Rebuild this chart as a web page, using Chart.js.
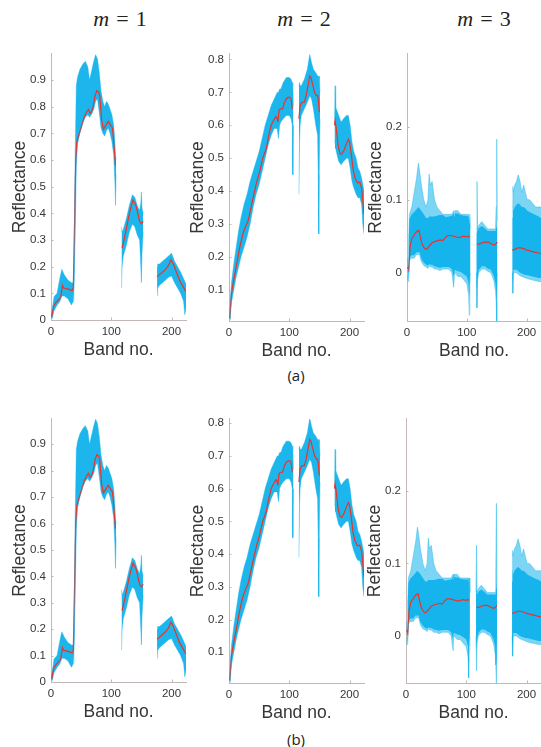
<!DOCTYPE html>
<html>
<head>
<meta charset="utf-8">
<script src="https://cdn.jsdelivr.net/npm/chart.js@4.4.0/dist/chart.umd.min.js"></script>
<style>
  body { margin: 0; background: #fff; width: 541px; height: 747px; position: relative; overflow: hidden; }
  canvas { position: absolute; }
  .title { position: absolute; font-family: "Liberation Serif", "Times New Roman", serif; font-size: 22px;
           line-height: 22px; color: #222; transform: translateX(-50%); white-space: nowrap; }
  .title span { margin: 0 7px; }
  .tag { position: absolute; font-family: "Open Sans", sans-serif; font-size: 15px; color: #222;
         transform: translate(-50%, -50%); }
</style>
</head>
<body>
<div class="title" style="left:120px; top:8px"><i>m</i><span>=</span>1</div>
<div class="title" style="left:304px; top:8px"><i>m</i><span>=</span>2</div>
<div class="title" style="left:484px; top:8px"><i>m</i><span>=</span>3</div>
<div class="tag" style="left:296px; top:375px">(a)</div>
<div class="tag" style="left:296px; top:739px">(b)</div>

<script>
// endmember m = 1 : spread of the bundle (upper / lower) and the mean spectrum
const m1Bands = [0, 2, 5, 10, 15, 18, 22, 28, 34, 37, 38, 40, 42, 44, 48, 53, 57, 61, 64, 67, 71, 74, 77, 80, 83, 86, 89, 92, 95, 98, 101, 104, 106, 107, 108,
  112,
  117, 118, 120, 125, 130, 135, 139, 143, 147, 149, 150, 151, 153,
  165,
  176, 177, 180, 185, 190, 195, 200, 205, 210, 215, 220, 222, 224];
const m1Upper = [0.02, 0.04, 0.087, 0.1, 0.16, 0.19, 0.17, 0.15, 0.14, 0.14, 0.15, 0.6, 0.88, 0.91, 0.94, 0.96, 0.97, 0.95, 0.9, 0.93, 0.97, 0.995, 0.98, 0.93, 0.86, 0.82, 0.8, 0.82, 0.81, 0.79, 0.77, 0.73, 0.67, 0.62, 0.6,
  null,
  0.35, 0.33, 0.34, 0.38, 0.43, 0.47, 0.46, 0.43, 0.41, 0.44, 0.48, 0.42, 0.40,
  null,
  0.2, 0.21, 0.21, 0.22, 0.23, 0.24, 0.25, 0.22, 0.2, 0.18, 0.155, 0.145, 0.135];
const m1Lower = [0.0, 0.005, 0.035, 0.055, 0.07, 0.09, 0.09, 0.08, 0.056, 0.07, 0.1, 0.3, 0.58, 0.66, 0.7, 0.74, 0.76, 0.77, 0.76, 0.77, 0.79, 0.82, 0.83, 0.78, 0.72, 0.7, 0.69, 0.71, 0.72, 0.7, 0.67, 0.62, 0.52, 0.43, 0.55,
  null,
  0.12, 0.2, 0.24, 0.28, 0.33, 0.36, 0.35, 0.32, 0.3, 0.2, 0.14, 0.25, 0.33,
  null,
  0.09, 0.12, 0.13, 0.14, 0.15, 0.16, 0.165, 0.14, 0.12, 0.1, 0.07, 0.02, 0.045];
const m1MeanBands = [1, 2, 4, 8, 12, 16, 19, 21, 25, 30, 35, 37, 39, 41, 43, 47, 51, 55, 59, 62, 65, 67, 70, 73, 76, 79, 81, 84, 87, 91, 95, 99, 102, 104, 107,
  112,
  118, 123, 130, 136, 141, 147, 150, 153,
  165,
  176, 180, 185, 190, 195, 199, 203, 208, 213, 218, 224];
const m1Mean = [0.01, 0.02, 0.05, 0.065, 0.075, 0.085, 0.13, 0.12, 0.118, 0.115, 0.11, 0.12, 0.35, 0.6, 0.67, 0.7, 0.73, 0.76, 0.78, 0.79, 0.775, 0.78, 0.8, 0.84, 0.86, 0.855, 0.84, 0.75, 0.715, 0.73, 0.745, 0.73, 0.72, 0.67, 0.58,
  null,
  0.27, 0.32, 0.4, 0.45, 0.43, 0.37, 0.36, 0.37,
  null,
  0.162, 0.17, 0.18, 0.19, 0.205, 0.226, 0.21, 0.18, 0.15, 0.13, 0.106];

// endmember m = 2
const m2Bands = [1, 2, 4, 8, 12, 16, 20, 25, 30, 35, 40, 45, 50, 55, 60, 65, 70, 75, 80, 82, 84, 86, 90, 95, 100, 103, 105, 106, 107,
  111,
  116, 117, 118, 120, 125, 130, 134, 137, 140, 144, 147, 148, 149, 150, 151,
  163,
  175, 176, 177, 178, 182, 186, 190, 195, 198, 201, 204, 207, 211, 214, 217, 220, 222, 224];
const m2Upper = [0.02, 0.06, 0.12, 0.18, 0.23, 0.28, 0.32, 0.36, 0.39, 0.43, 0.46, 0.49, 0.52, 0.56, 0.6, 0.63, 0.66, 0.68, 0.7, 0.7, 0.71, 0.71, 0.73, 0.745, 0.745, 0.74, 0.73, 0.72, 0.66,
  null,
  0.72, 0.73, 0.72, 0.72, 0.74, 0.77, 0.815, 0.79, 0.77, 0.76, 0.75, 0.75, 0.74, 0.75, 0.7,
  null,
  0.62, 0.72, 0.66, 0.65, 0.63, 0.61, 0.62, 0.63, 0.63, 0.6, 0.55, 0.52, 0.5, 0.47, 0.46, 0.44, 0.42, 0.4];
const m2Lower = [0.005, 0.01, 0.06, 0.1, 0.14, 0.17, 0.2, 0.23, 0.26, 0.3, 0.35, 0.39, 0.42, 0.46, 0.5, 0.54, 0.57, 0.59, 0.59, 0.56, 0.6, 0.61, 0.62, 0.63, 0.63, 0.62, 0.6, 0.45, 0.6,
  null,
  0.39, 0.55, 0.6, 0.63, 0.65, 0.67, 0.69, 0.68, 0.65, 0.6, 0.57, 0.45, 0.27, 0.5, 0.62,
  null,
  0.55, 0.55, 0.53, 0.52, 0.49, 0.48, 0.49, 0.5, 0.5, 0.47, 0.43, 0.41, 0.39, 0.38, 0.38, 0.36, 0.3, 0.27];
const m2MeanBands = [1, 3, 4, 8, 12, 18, 23, 28, 31, 33, 40, 45, 51, 56, 62, 66, 70, 74, 78, 80, 81, 83, 85, 89, 92, 95, 98, 101, 103, 105,
  111,
  116, 118, 121, 125, 128, 131, 134, 136, 138, 142, 145, 147, 148, 150,
  163,
  175, 176, 178, 181, 184, 187, 191, 195, 198, 200, 203, 206, 209, 213, 217, 220, 222, 224];
const m2Mean = [0.01, 0.06, 0.09, 0.13, 0.17, 0.23, 0.27, 0.295, 0.306, 0.32, 0.38, 0.42, 0.46, 0.5, 0.53, 0.57, 0.6, 0.615, 0.627, 0.62, 0.61, 0.645, 0.65, 0.65, 0.67, 0.68, 0.685, 0.685, 0.68, 0.65,
  null,
  0.62, 0.66, 0.67, 0.67, 0.69, 0.72, 0.75, 0.745, 0.73, 0.7, 0.69, 0.69, 0.68, 0.64,
  null,
  0.6, 0.615, 0.59, 0.54, 0.515, 0.512, 0.525, 0.545, 0.557, 0.55, 0.51, 0.465, 0.44, 0.425, 0.427, 0.41, 0.37, 0.33];

// endmember m = 3 : sparse outer spread plus the dense core of the bundle
const m3Bands = [1, 2, 3, 4, 6, 8, 12, 16, 19, 21, 24, 28, 32, 35, 37, 39, 42, 46, 50, 55, 60, 65, 70, 75, 78, 79, 80, 85, 90, 95, 100, 103, 104, 105, 106,
  111,
  116, 117, 118, 120, 125, 130, 135, 140, 145, 148, 149, 150, 151,
  163,
  176, 177, 178, 180, 183, 186, 189, 192, 195, 198, 201, 205, 210, 215, 220, 224];
const m3Upper = [0.02, 0.01, 0.05, 0.08, 0.085, 0.09, 0.11, 0.13, 0.15, 0.14, 0.12, 0.1, 0.09, 0.1, 0.135, 0.12, 0.125, 0.1, 0.09, 0.085, 0.08, 0.08, 0.08, 0.08, 0.085, 0.08, 0.085, 0.085, 0.08, 0.08, 0.08, 0.08, 0.07, 0.08, 0.06,
  null,
  0.06, 0.125, 0.06, 0.065, 0.07, 0.065, 0.06, 0.06, 0.06, 0.06, 0.09, 0.183, 0.07,
  null,
  0.09, 0.118, 0.11, 0.12, 0.125, 0.134, 0.125, 0.11, 0.12, 0.11, 0.1, 0.1, 0.095, 0.09, 0.09, 0.09];
const m3Lower = [-0.005, -0.012, 0.0, 0.015, 0.02, 0.02, 0.02, 0.025, 0.025, 0.025, 0.015, 0.01, 0.008, 0.006, 0.01, 0.008, 0.008, 0.005, 0.005, 0.003, 0.005, 0.005, 0.005, 0.0, -0.02, 0.0, 0.0, -0.005, -0.005, -0.01, -0.015, -0.03, -0.058, -0.02, 0.0,
  null,
  0.0, -0.048, -0.01, 0.0, 0.005, 0.005, 0.002, 0.0, -0.01, -0.025, -0.04, -0.066, 0.0,
  null,
  0.0, -0.028, 0.0, 0.0, 0.0, -0.002, -0.004, -0.005, -0.006, -0.007, -0.008, -0.009, -0.01, -0.011, -0.012, -0.012];
const m3CoreUpper = [0.017, 0.01, 0.045, 0.073, 0.077, 0.08, 0.083, 0.087, 0.09, 0.088, 0.085, 0.08, 0.075, 0.075, 0.077, 0.077, 0.077, 0.077, 0.078, 0.079, 0.079, 0.076, 0.077, 0.078, 0.081, 0.077, 0.081, 0.081, 0.079, 0.078, 0.078, 0.077, 0.068, 0.077, 0.058,
  null,
  0.054, 0.064, 0.057, 0.061, 0.064, 0.061, 0.057, 0.057, 0.057, 0.057, 0.062, 0.072, 0.062,
  null,
  0.075, 0.09, 0.085, 0.09, 0.093, 0.095, 0.093, 0.09, 0.09, 0.088, 0.085, 0.083, 0.081, 0.079, 0.077, 0.075];
const m3CoreLower = [-0.003, -0.008, 0.002, 0.018, 0.023, 0.024, 0.024, 0.028, 0.028, 0.028, 0.019, 0.014, 0.011, 0.01, 0.012, 0.011, 0.011, 0.009, 0.008, 0.007, 0.008, 0.008, 0.008, 0.005, -0.005, 0.004, 0.004, 0.002, 0.001, -0.002, -0.005, -0.015, -0.035, -0.008, 0.004,
  null,
  0.004, -0.02, -0.004, 0.004, 0.009, 0.009, 0.006, 0.004, -0.004, -0.015, -0.025, -0.04, 0.004,
  null,
  0.004, -0.012, 0.004, 0.004, 0.004, 0.002, 0.0, -0.001, -0.002, -0.003, -0.003, -0.004, -0.005, -0.006, -0.007, -0.007];
const m3MeanBands = [1, 3, 5, 8, 11, 14, 17, 20, 22, 25, 28, 31, 34, 38, 42, 47, 52, 56, 60, 64, 68, 73, 78, 82, 86, 90, 95, 99, 102, 105,
  111,
  117, 120, 125, 130, 135, 140, 145, 148, 151,
  163,
  176, 180, 185, 190, 195, 200, 205, 210, 215, 220, 224];
const m3Mean = [0.008, 0.004, 0.035, 0.047, 0.05, 0.054, 0.057, 0.058, 0.05, 0.04, 0.035, 0.032, 0.033, 0.037, 0.041, 0.043, 0.044, 0.045, 0.044, 0.048, 0.051, 0.051, 0.05, 0.049, 0.048, 0.049, 0.05, 0.049, 0.05, 0.049,
  null,
  0.04, 0.039, 0.041, 0.042, 0.042, 0.04, 0.038, 0.039, 0.042,
  null,
  0.031, 0.032, 0.034, 0.034, 0.033, 0.031, 0.03, 0.029, 0.028, 0.027, 0.026];

const xTicks = [0, 100, 200];
const cyan = 'rgba(16, 178, 236, 0.95)';
const cyanSparse = 'rgba(16, 178, 236, 0.55)';
const cyanEdge = 'rgba(16, 178, 236, 0.5)';
const meanColor = '#e8352b';
const axisColor = '#c2b8b5';
const textColor = '#363636';

const m1 = { bands: m1Bands, upper: m1Upper, lower: m1Lower, meanBands: m1MeanBands, mean: m1Mean };
const m2 = { bands: m2Bands, upper: m2Upper, lower: m2Lower, meanBands: m2MeanBands, mean: m2Mean };
const m3 = { bands: m3Bands, upper: m3Upper, lower: m3Lower, coreUpper: m3CoreUpper, coreLower: m3CoreLower,
             meanBands: m3MeanBands, mean: m3Mean };

// plot boxes in page pixels, y-limits per panel
const panels = [
  { left: 51, top: 52, w: 135, h: 268, yMin: 0, yMax: 0.998, s: m1 },
  { left: 229, top: 52, w: 135, h: 269, yMin: 0.005, yMax: 0.817, s: m2 },
  { left: 407, top: 52, w: 134, h: 269, yMin: -0.066, yMax: 0.2995, s: m3 },
  { left: 51, top: 417, w: 135, h: 265, yMin: 0, yMax: 0.996, s: m1 },
  { left: 229, top: 417, w: 135, h: 266, yMin: 0.006, yMax: 0.813, s: m2 },
  { left: 406, top: 417, w: 135, h: 266, yMin: -0.065, yMax: 0.2995, s: m3 }
];

const Y_AXIS_W = 46, X_AXIS_H = 42, PAD_TOP = 10, PAD_RIGHT = 14;

function pts(xs, ys) {
  return xs.map((x, i) => ({ x: x, y: ys[i] }));
}

// MATLAB style short ticks pointing into the plot
const inwardTicks = {
  id: 'inwardTicks',
  afterDatasetsDraw(chart) {
    const { ctx, chartArea, scales } = chart;
    ctx.save();
    ctx.strokeStyle = axisColor;
    ctx.lineWidth = 1;
    ctx.beginPath();
    scales.x.ticks.forEach(t => {
      const px = Math.round(scales.x.getPixelForValue(t.value)) + 0.5;
      ctx.moveTo(px, chartArea.bottom);
      ctx.lineTo(px, chartArea.bottom - 2.5);
    });
    scales.y.ticks.forEach(t => {
      const py = Math.round(scales.y.getPixelForValue(t.value)) + 0.5;
      ctx.moveTo(chartArea.left, py);
      ctx.lineTo(chartArea.left + 2.5, py);
    });
    ctx.stroke();
    ctx.restore();
  }
};

function bundleSets(s) {
  const hasCore = !!s.coreUpper;
  const sets = [
    { data: pts(s.bands, s.lower), borderColor: cyanEdge, borderWidth: 0.8, fill: false },
    { data: pts(s.bands, s.upper), borderColor: cyanEdge, borderWidth: 0.8,
      backgroundColor: hasCore ? cyanSparse : cyan, fill: '-1' }
  ];
  if (hasCore) {
    sets.push({ data: pts(s.bands, s.coreLower), borderColor: 'transparent', borderWidth: 0, fill: false });
    sets.push({ data: pts(s.bands, s.coreUpper), borderColor: 'transparent', borderWidth: 0,
                backgroundColor: cyan, fill: '-1' });
  }
  sets.push({ data: pts(s.meanBands, s.mean), borderColor: meanColor, borderWidth: 1.2, fill: false });
  return sets;
}

panels.forEach(p => {
  const canvas = document.createElement('canvas');
  canvas.width = Y_AXIS_W + p.w + PAD_RIGHT;
  canvas.height = PAD_TOP + p.h + X_AXIS_H;
  canvas.style.left = (p.left - Y_AXIS_W) + 'px';
  canvas.style.top = (p.top - PAD_TOP) + 'px';
  document.body.appendChild(canvas);

  new Chart(canvas.getContext('2d'), {
    type: 'line',
    data: { datasets: bundleSets(p.s) },
    options: {
      responsive: false,
      animation: false,
      spanGaps: false,
      layout: { padding: { top: PAD_TOP, right: PAD_RIGHT, left: 0, bottom: 0 } },
      elements: { point: { radius: 0 }, line: { tension: 0 } },
      plugins: {
        legend: { display: false },
        tooltip: { enabled: false },
        filler: { drawTime: 'beforeDatasetsDraw' }
      },
      scales: {
        x: {
          type: 'linear', min: 0, max: 224,
          afterFit: s => { s.height = X_AXIS_H; },
          afterBuildTicks: s => { s.ticks = xTicks.map(v => ({ value: v })); },
          grid: { display: false, drawTicks: false },
          border: { display: true, color: axisColor, width: 1 },
          ticks: { color: textColor, font: { family: 'Liberation Sans', size: 11.5 }, padding: 5, maxRotation: 0 },
          title: { display: true, text: 'Band no.', color: textColor, padding: { top: 0, bottom: 1.8 },
                   font: { family: 'Liberation Sans', size: 17.5 } }
        },
        y: {
          min: p.yMin, max: p.yMax,
          afterFit: s => { s.width = Y_AXIS_W; },
          grid: { display: false, drawTicks: false },
          border: { display: true, color: axisColor, width: 1 },
          ticks: { stepSize: 0.1, includeBounds: false, color: textColor, padding: 5,
                   font: { family: 'Liberation Sans', size: 11.5 } },
          title: { display: true, text: 'Reflectance', color: textColor, padding: { top: 4.8, bottom: 0 },
                   font: { family: 'Liberation Sans', size: 17.5 } }
        }
      }
    },
    plugins: [inwardTicks]
  });
});
</script>
</body>
</html>
